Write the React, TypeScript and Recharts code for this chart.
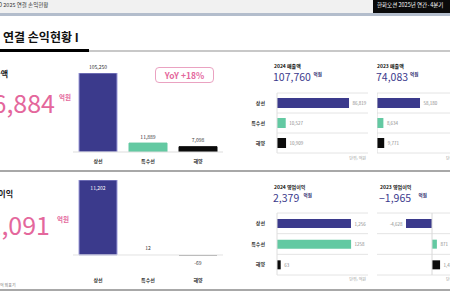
import React from "react";
import { BarChart, Bar, XAxis, YAxis, Cell, LabelList, ReferenceLine, CartesianGrid } from "recharts";

const FONT = '"Noto Sans CJK KR", "Noto Sans", sans-serif';

const segments = ["상선", "특수선", "해양"];
const segmentColors = ["#3b3a8c", "#63c9a2", "#0b0b0b"];
const segmentStrokes = ["#9c9ad8", "#63c9a2", "#0b0b0b"];

const revenue2025 = [105250, 11889, 7098];
const opProfit2025 = [11202, 12, -69];
const revenue2024 = [86819, 10527, 10909];
const revenue2023 = [58180, 8634, 9771];
const opProfit2024 = [1256, 1258, 63];
const opProfit2024Labels = ["1,256", "1258", "63"];
const opProfit2023 = [-4628, 871, 1437];

const revenueTotal2025 = "126,884";
const opTotal2025 = "11,091";
const revenueTotal2024 = "107,760";
const revenueTotal2023 = "74,083";
const opTotal2024 = "2,379";
const opTotal2023 = "−1,965";
const yoyText = "YoY +18%";

const NAVY = "#3b3a8c";
const PINK = "#e4679c";

const toRows = (vals: number[]) => segments.map((name, i) => ({ name, value: vals[i] }));

const fmt = (v: any) => Number(v).toLocaleString("en-US");

const getBox = (p: any) => {
  const vb = p.viewBox && p.viewBox.width !== undefined ? p.viewBox : p;
  return { x: Number(vb.x), y: Number(vb.y), width: Number(vb.width), height: Number(vb.height) };
};

const vLabel = (insideFirst: boolean) => (p: any) => {
  const { x, y, width, height } = getBox(p);
  const top = Math.min(y, y + height);
  const bottom = Math.max(y, y + height);
  const cx = x + width / 2;
  const v = Number(p.value);
  if (insideFirst && p.index === 0) {
    return (
      <text x={cx} y={top + 7} textAnchor="middle" dominantBaseline="central" fontSize={5} fill="#ffffff">
        {fmt(v)}
      </text>
    );
  }
  if (v >= 0) {
    return (
      <text x={cx} y={top - 4.5} textAnchor="middle" fontSize={5} fill="#333">
        {fmt(v)}
      </text>
    );
  }
  return (
    <text x={cx} y={bottom + 7} textAnchor="middle" dominantBaseline="central" fontSize={5} fill="#333">
      {fmt(v)}
    </text>
  );
};

const hLabel = (labels?: string[]) => (p: any) => {
  const { x, y, width, height } = getBox(p);
  const l = Math.min(x, x + width);
  const r = Math.max(x, x + width);
  const v = Number(p.value);
  const neg = v < 0;
  const txt = labels ? labels[p.index] : fmt(v);
  return (
    <text
      x={neg ? l - 3.5 : r + 3.5}
      y={y + height / 2}
      textAnchor={neg ? "end" : "start"}
      dominantBaseline="central"
      fontSize={4.5}
      fill="#888"
    >
      {txt}
    </text>
  );
};

const rowLines = (props: any) => {
  const off = props.offset;
  const n = segments.length;
  return Array.from({ length: n + 1 }, (_, i) => off.top + (off.height * i) / n);
};

function T(props: {
  x?: number;
  right?: number;
  y: number;
  size: number;
  color?: string;
  weight?: number;
  children: React.ReactNode;
}) {
  const { x, right, y, size, color = "#222", weight = 400, children } = props;
  const style: React.CSSProperties = {
    position: "absolute",
    top: y,
    fontSize: size,
    lineHeight: 1,
    color,
    fontWeight: weight,
    whiteSpace: "nowrap",
  };
  if (right !== undefined) style.right = 450 - right;
  else style.left = x;
  return <div style={style}>{children}</div>;
}

function HBars(props: {
  left: number;
  top: number;
  width: number;
  height: number;
  values: number[];
  domain: [number, number];
  showCats: boolean;
  labels?: string[];
  zeroRef: boolean;
  barSize: number;
}) {
  const { left, top, width, height, values, domain, showCats, labels, zeroRef, barSize } = props;
  const data = toRows(values);
  return (
    <div style={{ position: "absolute", left, top }}>
      <BarChart
        width={width}
        height={height}
        data={data}
        layout="vertical"
        margin={{ top: 4, right: 2, bottom: 4, left: 0 }}
      >
        <CartesianGrid vertical={false} stroke="#e4e4e4" horizontalCoordinatesGenerator={rowLines} />
        <XAxis type="number" domain={domain} hide allowDataOverflow />
        <YAxis
          type="category"
          dataKey="name"
          width={37}
          hide={!showCats}
          axisLine={{ stroke: "#dedede" }}
          tickLine={false}
          tickSize={0}
          tickMargin={12}
          interval={0}
          tick={{ fontSize: 5, fontWeight: 700, fill: "#333" }}
        />
        {zeroRef && <ReferenceLine x={0} stroke="#d8d8d8" />}
        <Bar dataKey="value" barSize={barSize} isAnimationActive={false}>
          {data.map((d, i) => (
            <Cell key={d.name} fill={segmentColors[i]} />
          ))}
          <LabelList dataKey="value" content={hLabel(labels)} />
        </Bar>
      </BarChart>
    </div>
  );
}

export default function App() {
  const top2025 = toRows(revenue2025);
  const op2025 = toRows(opProfit2025);
  const opColors = [NAVY, "#63c9a2", "#333333"];
  return (
    <div
      style={{
        position: "absolute",
        left: 0,
        top: 0,
        width: 450,
        height: 295,
        overflow: "hidden",
        background: "#ffffff",
        fontFamily: FONT,
      }}
    >
      {/* header */}
      <div style={{ position: "absolute", left: 0, top: 0, width: 450, height: 13, background: "#f1f1f1" }} />
      <div style={{ position: "absolute", left: 0, top: 13, width: 450, height: 3, background: "#b3bdcc" }} />
      <div style={{ position: "absolute", left: 373, top: 0, width: 77, height: 13, background: "#0a0a0a" }} />
      <T x={-2} y={3.4} size={5.5} color="#333">O 2025 연결 손익현황</T>
      <T x={377} y={3.4} size={5.5} color="#ffffff">한화오션 2025년 연간·4분기</T>

      {/* title */}
      <T x={3} y={30.7} size={12} weight={700} color="#111">연결 손익현황 I</T>
      <div style={{ position: "absolute", left: 89, top: 50, width: 361, height: 2, background: "#c8c8c8" }} />
      <div style={{ position: "absolute", left: 0, top: 48.5, width: 89, height: 3, background: "#000" }} />

      {/* top-left */}
      <T right={8} y={69.5} size={8} weight={700} color="#111">매출액</T>
      <T right={55} y={89.7} size={25} color={PINK}>{revenueTotal2025}</T>
      <T x={59} y={94.3} size={6.5} weight={700} color={PINK}>억원</T>

      <div
        style={{
          position: "absolute",
          left: 155,
          top: 67,
          width: 59,
          height: 16,
          boxSizing: "border-box",
          border: "1px solid #eaa2c1",
          borderRadius: 4,
          color: PINK,
          fontSize: 8.5,
          fontWeight: 700,
          lineHeight: "14px",
          textAlign: "center",
        }}
      >
        {yoyText}
      </div>

      <div style={{ position: "absolute", left: 73, top: 55 }}>
        <BarChart width={150} height={115} data={top2025} margin={{ top: 18, right: 0, bottom: 0, left: 0 }}>
          <XAxis
            dataKey="name"
            height={18}
            axisLine={{ stroke: "#dddddd" }}
            tickLine={false}
            tickSize={0}
            tickMargin={7}
            interval={0}
            tick={{ fontSize: 5, fontWeight: 700, fill: "#333" }}
          />
          <YAxis hide domain={[0, 105250]} allowDataOverflow />
          <Bar dataKey="value" barSize={38} isAnimationActive={false}>
            {top2025.map((d, i) => (
              <Cell key={d.name} fill={segmentColors[i]} stroke={segmentStrokes[i]} strokeWidth={1} />
            ))}
            <LabelList dataKey="value" content={vLabel(false)} />
          </Bar>
        </BarChart>
      </div>

      {/* top-right */}
      <T x={274} y={62.6} size={5} weight={700} color="#111">2024 매출액</T>
      <T x={273} y={72} size={10.5} color={NAVY}>{revenueTotal2024}</T>
      <T x={313.5} y={71.5} size={4.5} weight={700} color="#2b2a6e">억원</T>
      <T x={377} y={62.6} size={5} weight={700} color="#111">2023 매출액</T>
      <T x={376} y={72} size={10.5} color={NAVY}>{revenueTotal2023}</T>
      <T x={410} y={71.5} size={4.5} weight={700} color="#2b2a6e">억원</T>

      <HBars left={240} top={89} width={130} height={68} values={revenue2024} domain={[0, 109700]} showCats zeroRef={false} barSize={10} />
      <HBars left={377} top={89} width={93} height={68} values={revenue2023} domain={[0, 123100]} showCats={false} zeroRef barSize={10} />
      <T right={366} y={155.7} size={4} color="#999">단위: 억원</T>
      <T x={446} y={155.7} size={4} color="#999">단위: 억원</T>

      {/* section divider */}
      <div style={{ position: "absolute", left: 0, top: 170, width: 450, height: 2, background: "#a8a8a8" }} />

      {/* bottom-left */}
      <T right={13} y={189.5} size={8} weight={700} color="#111">영업이익</T>
      <T right={50} y={211.7} size={25} color={PINK}>{opTotal2025}</T>
      <T x={57} y={216.3} size={6.5} weight={700} color={PINK}>억원</T>

      <div style={{ position: "absolute", left: 73, top: 160 }}>
        <BarChart width={150} height={130} data={op2025} margin={{ top: 20, right: 0, bottom: 0, left: 0 }}>
          <XAxis
            dataKey="name"
            height={20}
            axisLine={false}
            tickLine={false}
            tickSize={0}
            tickMargin={8}
            interval={0}
            tick={{ fontSize: 5, fontWeight: 700, fill: "#333" }}
          />
          <YAxis hide domain={[-2241, 11202]} allowDataOverflow />
          <ReferenceLine y={0} stroke="#e2e2e2" />
          <Bar dataKey="value" barSize={38} isAnimationActive={false}>
            {op2025.map((d, i) => (
              <Cell key={d.name} fill={opColors[i]} stroke={i === 0 ? "#9c9ad8" : "none"} strokeWidth={1} />
            ))}
            <LabelList dataKey="value" content={vLabel(true)} />
          </Bar>
        </BarChart>
      </div>
      <T x={0} y={283} size={4} color="#777">억 외표기</T>

      {/* bottom-right */}
      <T x={274} y={184.2} size={5} weight={700} color="#111">2024 영업이익</T>
      <T x={273} y={193} size={10.5} color={NAVY}>{opTotal2024}</T>
      <T x={303.5} y={192.5} size={4.5} weight={700} color="#2b2a6e">억원</T>
      <T x={380} y={184.2} size={5} weight={700} color="#111">2023 영업이익</T>
      <T x={379} y={193} size={10.5} color={NAVY}>{opTotal2023}</T>
      <T x={418.5} y={192.5} size={4.5} weight={700} color="#2b2a6e">억원</T>

      <HBars left={240} top={209} width={130} height={70} values={opProfit2024} labels={opProfit2024Labels} domain={[0, 1545]} showCats zeroRef={false} barSize={9} />
      <HBars left={377} top={209} width={93} height={70} values={opProfit2023} domain={[-9790, 6408]} showCats={false} zeroRef barSize={9} />
      <T right={366} y={276.7} size={4} color="#999">단위: 억원</T>
      <T x={446} y={276.7} size={4} color="#999">단위: 억원</T>

      <div style={{ position: "absolute", left: 0, top: 289, width: 450, height: 2, background: "#a8a8a8" }} />
    </div>
  );
}
